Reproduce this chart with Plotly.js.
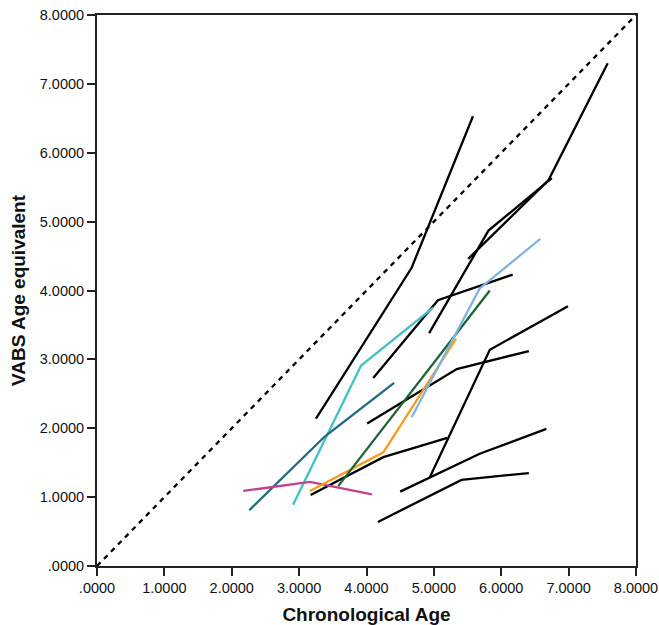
<!DOCTYPE html>
<html>
<head>
<meta charset="utf-8">
<script src="https://cdn.plot.ly/plotly-3.0.1.min.js"></script>
<style>html,body{margin:0;padding:0;background:#fff;}#chart{width:659px;height:625px;}</style>
</head>
<body>
<div id="chart"></div>
<script>
// Chronological age (x) and VABS age equivalent (y) per subject
const s1x = [3.25, 4.67, 5.58];   const s1y = [2.14, 4.33, 6.53];
const s2x = [5.51, 6.70, 7.58];   const s2y = [4.46, 5.60, 7.30];
const s3x = [4.93, 5.81, 6.75];   const s3y = [3.38, 4.87, 5.63];
const s4x = [4.10, 5.06, 6.17];   const s4y = [2.73, 3.86, 4.23];
const s5x = [4.01, 5.34, 6.41];   const s5y = [2.07, 2.86, 3.12];
const s6x = [4.94, 5.83, 6.99];   const s6y = [1.29, 3.14, 3.77];
const s7x = [4.50, 5.68, 6.67];   const s7y = [1.08, 1.63, 1.99];
const s8x = [4.17, 5.41, 6.41];   const s8y = [0.64, 1.25, 1.35];
const s9x = [3.17, 4.25, 5.20];   const s9y = [1.03, 1.58, 1.86];
const cyanX = [2.91, 3.92, 4.99];     const cyanY = [0.89, 2.91, 3.75];
const tealX = [2.26, 3.38, 4.41];     const tealY = [0.81, 1.88, 2.66];
const magX = [2.17, 3.16, 4.08];      const magY = [1.09, 1.22, 1.04];
const orangeX = [3.16, 4.25, 5.33];   const orangeY = [1.09, 1.65, 3.30];
const greenX = [3.58, 5.83];          const greenY = [1.16, 4.00];
const lblueX = [4.67, 5.68, 6.58];    const lblueY = [2.16, 4.03, 4.75];
const refLine = [0, 8];
const tickVals = [0, 1, 2, 3, 4, 5, 6, 7, 8];
const tickText = [".0000", "1.0000", "2.0000", "3.0000", "4.0000", "5.0000", "6.0000", "7.0000", "8.0000"];

function ln(x, y, color) {
  return {x: x, y: y, type: 'scatter', mode: 'lines', hoverinfo: 'skip',
          line: {color: color, width: 2.3}};
}
const traces = [
  {x: refLine, y: refLine, type: 'scatter', mode: 'lines', line: {color: '#000', width: 2.3, dash: '5px,5px'}},
  ln(s1x, s1y, '#000'), ln(s2x, s2y, '#000'), ln(s3x, s3y, '#000'),
  ln(s4x, s4y, '#000'), ln(s5x, s5y, '#000'), ln(s6x, s6y, '#000'),
  ln(s7x, s7y, '#000'), ln(s8x, s8y, '#000'), ln(s9x, s9y, '#000'),
  ln(cyanX, cyanY, '#3fc1c6'), ln(tealX, tealY, '#1f6a84'),
  ln(magX, magY, '#c2418d'), ln(orangeX, orangeY, '#f89b1e'),
  ln(greenX, greenY, '#1c6436'), ln(lblueX, lblueY, '#80b3e0')
];
const tickFont = {family: 'Liberation Sans, Arial, sans-serif', size: 14.5, color: '#111'};
const titleFont = {family: 'Liberation Sans, Arial, sans-serif', size: 19, color: '#111', weight: 'bold'};
const axisCommon = {
  range: [0, 8], tickvals: tickVals, ticktext: tickText,
  showgrid: false, zeroline: false, showline: true, linecolor: '#222', linewidth: 2,
  mirror: true, ticks: 'outside', ticklen: 8, tickwidth: 2, tickcolor: '#222',
  tickfont: tickFont
};
const layout = {
  width: 659, height: 625, showlegend: false,
  paper_bgcolor: '#fff', plot_bgcolor: '#fff',
  margin: {l: 97, r: 23, t: 15, b: 59},
  xaxis: Object.assign({}, axisCommon, {
    title: {text: 'Chronological Age', standoff: 14, font: titleFont}
  }),
  yaxis: Object.assign({}, axisCommon, {
    title: {text: 'VABS Age equivalent', standoff: 9, font: titleFont}
  })
};
Plotly.newPlot('chart', traces, layout, {staticPlot: true, displayModeBar: false});
</script>
</body>
</html>
